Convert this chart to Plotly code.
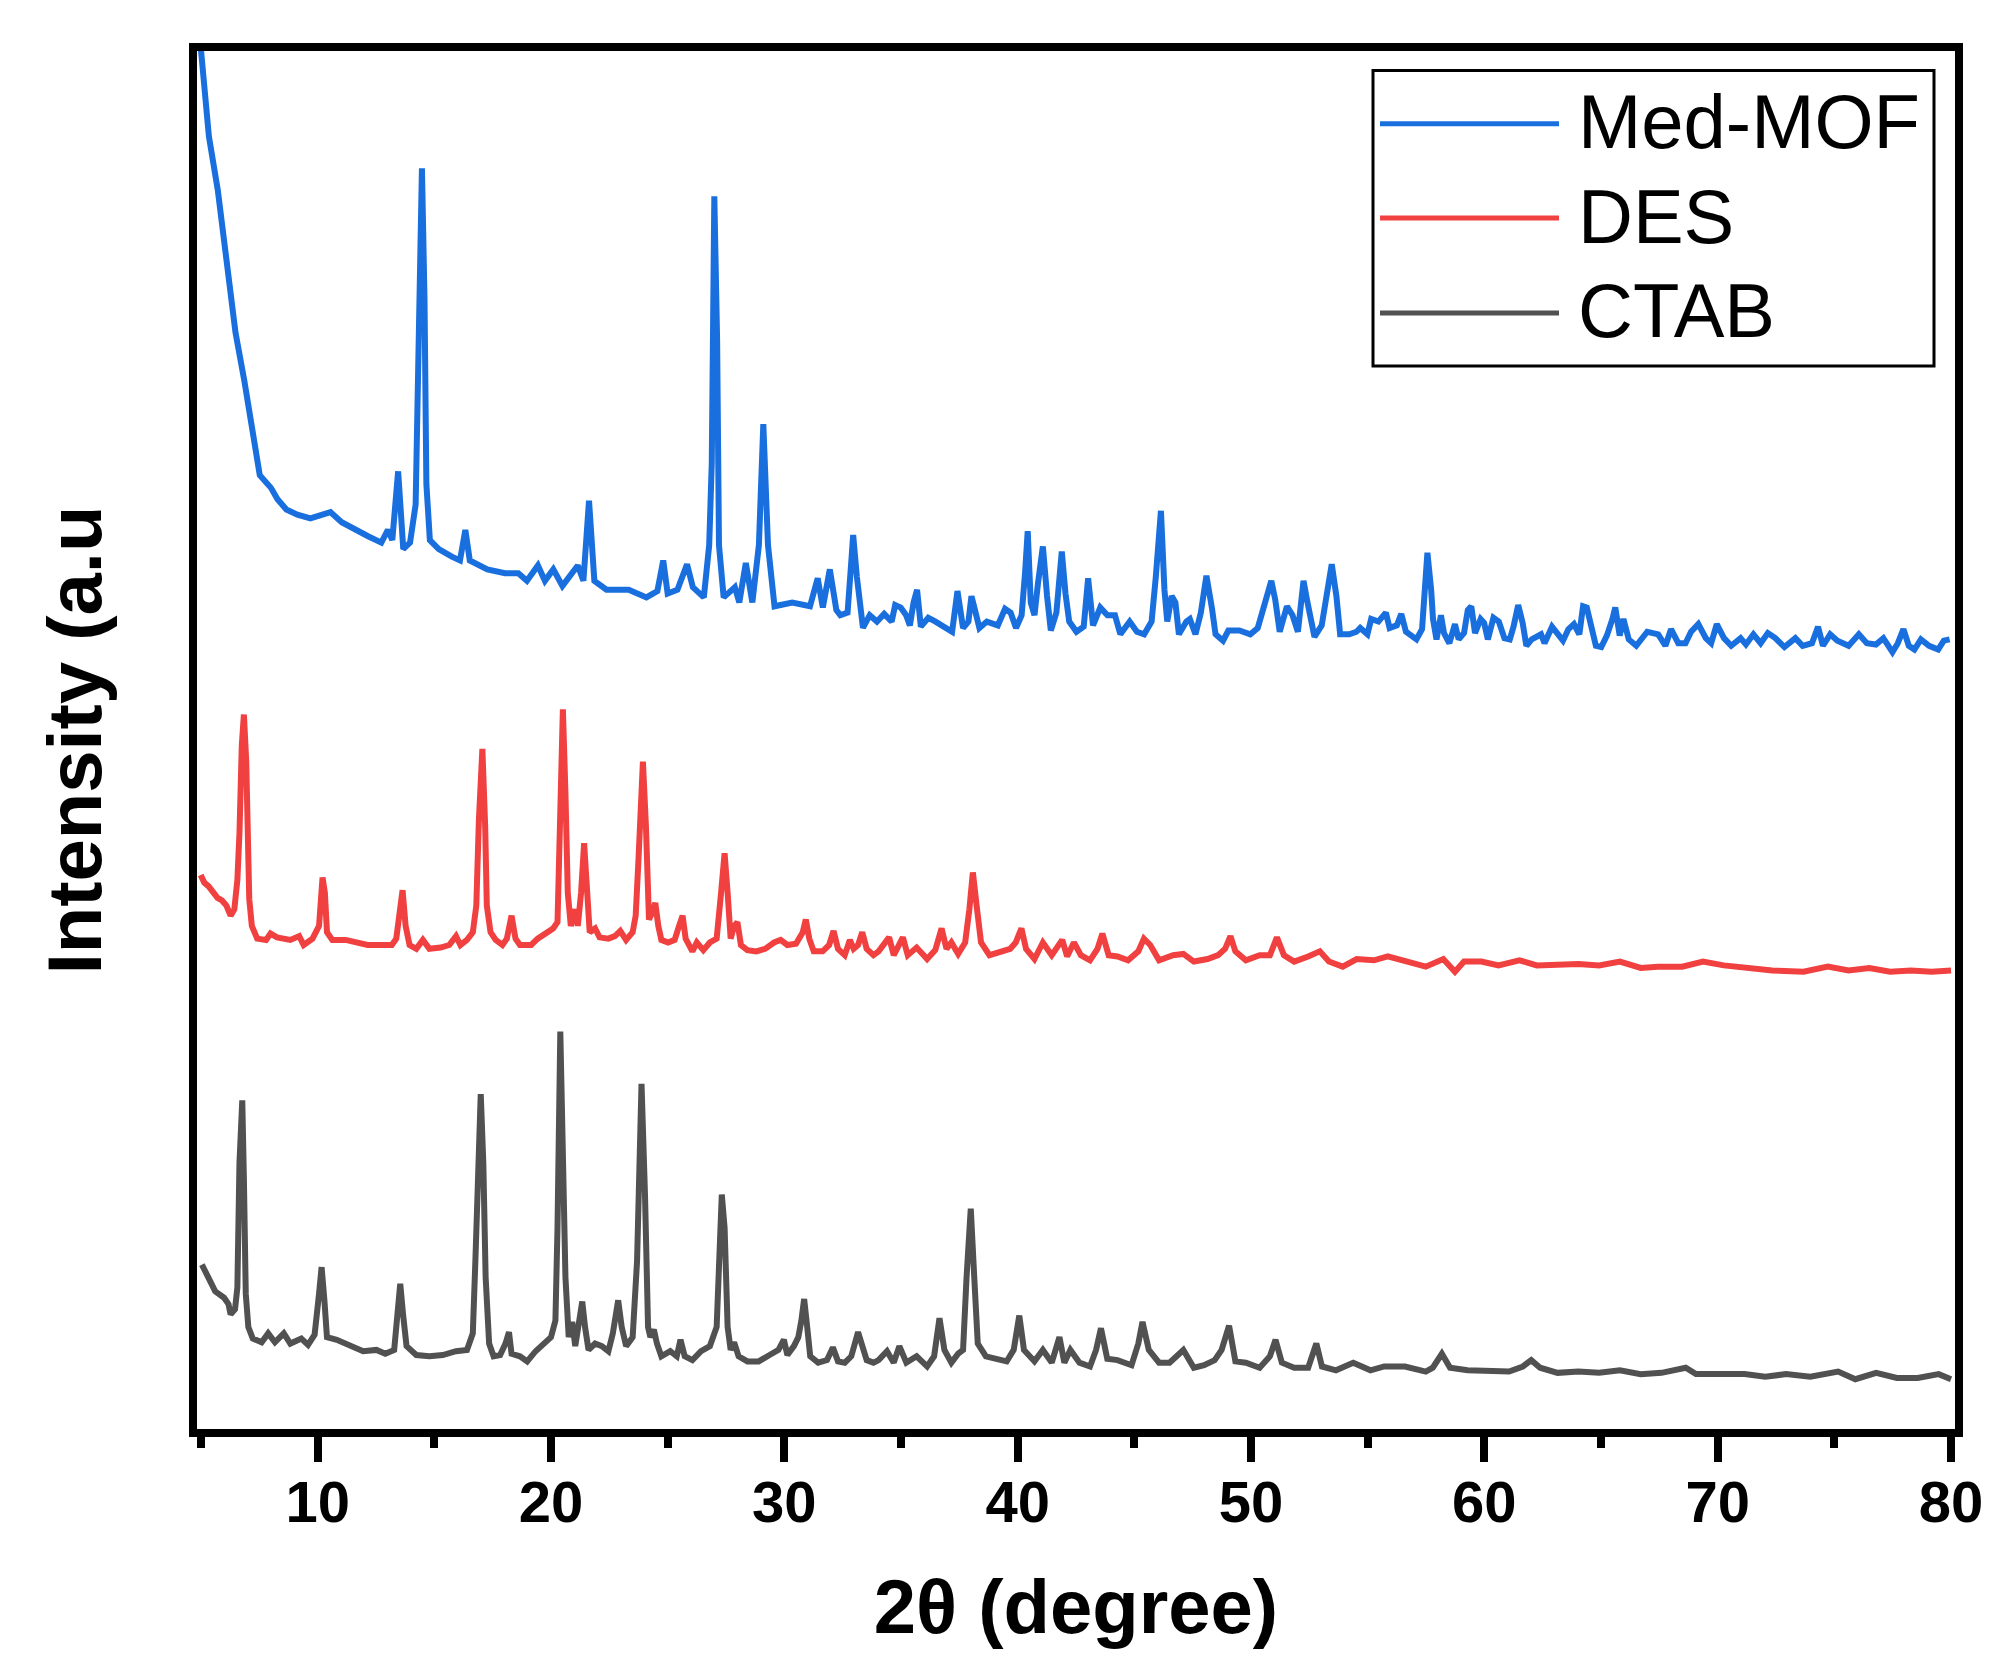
import plotly.graph_objects as go

# XRD patterns (2theta in degrees, intensity in arbitrary units)
med_mof_theta = [
    5.0, 5.34, 5.72, 6.10, 6.48, 6.86, 7.14, 7.33, 7.52, 8.0, 8.28, 8.66, 9.13, 9.69, 10.27, 10.55,
    11.03, 11.6, 12.16, 12.73, 13.01, 13.2, 13.45, 13.67, 13.96, 14.2, 14.34, 14.47, 14.58, 14.66,
    14.81, 15.19, 15.75, 16.1, 16.33, 16.52, 17.27, 18.03, 18.6, 18.97, 19.44, 19.74, 20.1, 20.49,
    21.15, 21.39, 21.63, 21.86, 22.38, 23.33, 24.09, 24.56, 24.81, 25.0, 25.42, 25.83, 26.08, 26.55,
    26.78, 26.89, 27.0, 27.12, 27.2, 27.4, 27.88, 28.07, 28.35, 28.63, 28.91, 29.1, 29.3, 29.58,
    30.34, 31.1, 31.43, 31.65, 31.95, 32.23,
    32.40, 32.71, 32.87, 32.95, 33.11, 33.26, 33.37, 33.66, 33.97, 34.28, 34.60, 34.75, 34.99, 35.22,
    35.38, 35.54, 35.69, 35.85, 36.17, 36.48, 36.95, 37.19, 37.42, 37.66, 37.89, 38.02, 38.13, 38.36,
    38.68, 39.15, 39.46, 39.70, 39.93, 40.17, 40.32, 40.43, 40.56, 40.72, 40.87, 41.08, 41.26, 41.42,
    41.66, 41.89, 42.05, 42.21, 42.52, 42.83, 43.02, 43.23, 43.54, 43.85, 44.17, 44.40, 44.80, 45.11,
    45.42, 45.74, 45.92, 46.14, 46.29, 46.41, 46.60, 46.76, 46.91, 47.23, 47.38, 47.62, 47.85, 48.09,
    48.33, 48.48, 48.80, 49.03, 49.50, 49.97, 50.29, 50.60, 50.87, 51.04, 51.23, 51.54, 51.78, 52.01,
    52.25, 52.40, 52.72, 53.03, 53.27, 53.46, 53.66, 53.82, 54.21, 54.52, 54.68, 54.99, 55.15, 55.46,
    55.78, 55.94, 56.25, 56.44, 56.64, 56.95,
    57.09, 57.33, 57.41, 57.56, 57.72, 57.80, 57.95, 58.14, 58.27, 58.50, 58.74, 58.90, 59.13, 59.29,
    59.44, 59.60, 59.84, 59.99, 60.15, 60.39, 60.62, 60.86, 61.09, 61.25, 61.45, 61.64, 61.80, 62.03,
    62.43, 62.58, 62.90, 63.13, 63.37, 63.60, 63.84, 64.07, 64.23, 64.39, 64.54, 64.78, 65.01, 65.25,
    65.49, 65.61, 65.80, 65.96, 66.19, 66.51, 66.98, 67.45, 67.76, 68.00, 68.31, 68.62, 68.86, 69.17,
    69.49, 69.72, 69.96, 70.27, 70.58, 70.98, 71.21, 71.53, 71.84, 72.15, 72.47, 72.86, 73.33, 73.64,
    74.04, 74.30, 74.51, 74.82, 75.13, 75.61, 76.05, 76.39, 76.78, 77.10, 77.49, 77.72, 77.96, 78.19,
    78.43, 78.71, 79.06, 79.45, 79.69, 79.94,
]
med_mof_int = [
    1080, 1012, 970, 916, 858, 820, 788, 765, 746, 736, 727, 719, 715, 712, 715, 717,
    709, 703, 698, 693, 703, 695, 749, 688, 693, 723, 852, 987, 884, 739,
    695, 688, 682, 679, 703, 679, 672, 669, 669, 663, 675, 663, 672, 659,
    675, 663, 726, 663, 656, 656, 650, 655, 679, 653, 656, 676, 658, 650,
    691, 755, 965, 852, 691, 650, 658, 646, 677, 646, 691, 786, 691, 643,
    646, 643, 665, 642, 672, 640,
    636, 638, 678, 699, 666, 636, 626, 636, 631, 637, 631, 644, 642, 636,
    628, 646, 656, 627, 634, 631, 626, 623, 655, 626, 631, 651, 643, 626,
    631, 628, 641, 638, 626, 636, 670, 702, 646, 636, 661, 690, 651, 624,
    638, 686, 653, 631, 623, 627, 665, 628, 642, 636, 636, 621, 631, 623,
    621, 631, 666, 718, 656, 631, 651, 646, 621, 631, 633, 621, 638, 667,
    641, 621, 616, 624, 624, 621, 626, 648, 663, 648, 623, 643, 636, 623,
    663, 648, 619, 628, 656, 676, 651, 621, 621, 623, 626, 621, 633, 631,
    638, 626, 628, 637, 623, 618,
    617, 625, 643, 685, 656, 633, 617, 636, 622, 614, 629, 617, 622, 640,
    643, 622, 633, 630, 617, 634, 631, 618, 617, 627, 644, 630, 612, 617,
    621, 614, 627, 622, 616, 625, 629, 621, 643, 642, 630, 612, 611, 620,
    633, 642, 620, 633, 617, 612, 623, 621, 612, 625, 614, 614, 623, 629,
    618, 614, 629, 618, 612, 618, 613, 621, 614, 622, 618, 611, 618, 612,
    614, 627, 612, 621, 616, 612, 621, 614, 613, 618, 607, 614, 625, 612,
    609, 617, 612, 609, 616, 617,
]

des_theta = [
    4.99, 5.14, 5.33, 5.52, 5.71, 5.90, 6.09, 6.27, 6.43, 6.56, 6.65, 6.75, 6.84, 6.94, 6.99, 7.07,
    7.18, 7.41, 7.79, 7.98, 8.26, 8.55, 8.83, 9.21, 9.40, 9.78, 10.06, 10.21, 10.31, 10.40, 10.63,
    11.20, 11.57, 12.14, 12.71, 13.18, 13.37, 13.51, 13.64, 13.77, 13.94, 14.23, 14.51, 14.79, 15.27,
    15.64, 15.93, 16.12, 16.40, 16.65, 16.80, 16.91, 17.06, 17.18, 17.25, 17.41, 17.63, 17.92, 18.11,
    18.31, 18.48, 18.67, 19.15, 19.43, 19.81, 20.09, 20.28, 20.40, 20.51, 20.62, 20.72, 20.85, 21.04,
    21.15, 21.29, 21.42, 21.51, 21.66, 21.89, 22.08, 22.46, 22.74, 22.97, 23.22, 23.50, 23.63, 23.75,
    23.94, 24.07, 24.20, 24.35, 24.47, 24.60, 24.73, 25.02, 25.30, 25.49, 25.64, 25.77, 26.06, 26.25,
    26.53, 26.81, 27.10, 27.29, 27.44, 27.57, 27.70, 27.85, 27.99, 28.14, 28.42, 28.80, 29.18, 29.56,
    29.84, 30.13, 30.50, 30.79, 30.92, 31.07, 31.26, 31.64, 31.92, 32.11, 32.30, 32.59, 32.81, 32.97,
    33.16, 33.34, 33.53, 33.82,
    34.04, 34.49, 34.69, 35.08, 35.29, 35.67, 36.12, 36.47, 36.74, 36.95, 37.16, 37.45, 37.75, 37.93,
    38.08, 38.26, 38.43, 38.79, 39.24, 39.68, 39.92, 40.16, 40.36, 40.72, 41.08, 41.46, 41.91, 42.12,
    42.41, 42.71, 43.10, 43.42, 43.63, 43.90, 44.28, 44.73, 45.17, 45.41, 45.68, 46.06, 46.66, 47.10,
    47.55, 48.14, 48.59, 48.89, 49.12, 49.33, 49.78, 50.37, 50.81, 51.11, 51.41, 51.85, 52.45, 52.95,
    53.34, 53.93, 54.53, 55.27, 55.86, 56.60, 57.49, 58.24, 58.74, 59.13, 59.87, 60.61, 61.50, 62.25,
    63.14, 64.03, 64.92, 65.81, 66.70, 67.44, 68.48, 69.37, 70.26, 71.45, 72.34, 73.68, 74.72, 75.61,
    76.50, 77.39, 78.28, 79.17, 80.0,
]
des_int = [
    432, 426, 423, 418, 414, 412, 408, 400, 405, 428, 465, 534, 558, 521, 470, 413,
    392, 382, 381, 386, 383, 382, 381, 384, 377, 382, 392, 430, 418, 387, 381,
    381, 379, 377, 377, 377, 382, 405, 420, 392, 377, 374, 381, 374, 375,
    377, 384, 377, 381, 387, 408, 475, 531, 470, 408, 387, 381, 377, 382,
    400, 382, 377, 377, 382, 386, 390, 395, 465, 562, 496, 418, 392, 405,
    392, 418, 457, 428, 387, 390, 383, 382, 384, 388, 381, 387, 400, 444,
    521, 470, 397, 403, 410, 392, 381, 379, 381, 392, 400, 382, 372, 379,
    373, 379, 382, 418, 449, 418, 382, 392, 395, 377, 373, 372, 374, 379,
    381, 377, 378, 387, 397, 382, 372, 372, 377, 388, 374, 369, 381, 374,
    377, 387, 374, 369,
    372, 383, 369, 383, 369, 375, 366, 373, 390, 374, 379, 370, 379, 405,
    434, 405, 379, 369, 372, 374, 379, 390, 374, 366, 379, 369, 381, 368,
    379, 369, 365, 374, 386, 369, 368, 365, 372, 382, 377, 365, 369, 370,
    364, 366, 369, 374, 384, 372, 365, 369, 369, 383, 369, 364, 368, 372,
    364, 360, 366, 365, 368, 364, 360, 366, 356, 364, 364, 361, 365, 361,
    362, 362, 361, 364, 359, 360, 360, 364, 361, 359, 357, 356, 360, 357,
    359, 356, 357, 356, 357,
]

ctab_theta = [
    5.04, 5.23, 5.42, 5.61, 5.80, 5.99, 6.18, 6.27, 6.46, 6.56, 6.65, 6.77, 6.84, 6.92, 7.03, 7.22,
    7.60, 7.88, 8.17, 8.55, 8.83, 9.30, 9.59, 9.87, 10.06, 10.17, 10.29, 10.40, 10.82, 11.39, 11.95,
    12.52, 12.90, 13.28, 13.43, 13.54, 13.66, 13.81, 14.23, 14.79, 15.36, 15.93, 16.40, 16.65, 16.76,
    16.88, 16.99, 17.10, 17.20, 17.35, 17.54, 17.82, 18.05, 18.20, 18.31, 18.67, 18.98, 19.34, 19.71,
    20.00, 20.19, 20.28, 20.40, 20.51, 20.62, 20.76, 20.91, 21.04, 21.19, 21.34, 21.46, 21.61, 21.89,
    22.18, 22.46, 22.65, 22.88, 23.03, 23.22, 23.50, 23.69, 23.88, 24.03, 24.16, 24.26, 24.41, 24.54,
    24.73, 25.11, 25.39, 25.55, 25.73, 26.06, 26.43, 26.81, 27.10, 27.32, 27.44, 27.57, 27.70, 27.85,
    28.04, 28.42, 28.90, 29.37, 29.75, 29.98, 30.13, 30.41, 30.60, 30.73, 30.85, 30.98, 31.11, 31.45,
    31.83, 32.08, 32.30, 32.59, 32.87, 33.16, 33.34, 33.53, 33.82,
    34.04, 34.40, 34.69, 34.93, 35.23, 35.67, 36.12, 36.42, 36.65, 36.86, 37.16, 37.45, 37.66, 37.81,
    37.99, 38.14, 38.29, 38.64, 39.09, 39.53, 39.83, 40.07, 40.27, 40.72, 41.08, 41.46, 41.79, 42.00,
    42.26, 42.65, 43.10, 43.36, 43.57, 43.84, 44.28, 44.88, 45.17, 45.35, 45.62, 46.06, 46.51, 47.10,
    47.55, 47.99, 48.44, 48.74, 49.06, 49.33, 49.78, 50.37, 50.81, 51.05, 51.32, 51.85, 52.45, 52.80,
    53.04, 53.64, 54.38, 55.12, 55.71, 56.60, 57.49, 57.79, 58.18, 58.53, 59.28, 60.17, 61.06, 61.65,
    62.01, 62.39, 63.14, 64.03, 64.92, 65.81, 66.70, 67.59, 68.63, 69.07, 69.96, 71.15, 72.04, 72.93,
    73.97, 75.16, 75.90, 76.79, 77.68, 78.57, 79.47, 80.0,
]
ctab_int = [
    126, 118, 112, 105, 103, 100, 95, 87, 91, 108, 206, 255, 193, 103, 77, 68,
    65, 72, 65, 72, 64, 68, 63, 71, 103, 124, 98, 69, 67, 62, 58,
    59, 56, 59, 90, 111, 87, 62, 55, 54, 55, 58, 59, 72, 129,
    206, 260, 206, 116, 64, 54, 55, 64, 73, 56, 54, 50, 58, 64,
    69, 82, 155, 309, 232, 116, 69, 81, 62, 77, 97, 77, 59, 64,
    62, 58, 72, 98, 77, 62, 69, 129, 268, 180, 77, 69, 75, 64,
    54, 58, 54, 67, 54, 51, 58, 62, 77, 181, 155, 77, 59, 65,
    54, 50, 50, 55, 59, 67, 55, 62, 69, 82, 99, 77, 54, 49,
    51, 61, 50, 49, 54, 73, 62, 51, 49,
    51, 58, 49, 62, 49, 54, 46, 54, 84, 59, 49, 56, 59, 116,
    170, 116, 64, 54, 52, 50, 59, 86, 59, 50, 59, 49, 69, 49,
    59, 49, 46, 59, 76, 52, 51, 47, 64, 81, 59, 49, 49, 59,
    45, 47, 51, 59, 78, 50, 49, 45, 54, 67, 49, 45, 45, 64,
    46, 43, 49, 43, 46, 46, 42, 45, 56, 45, 43, 42, 42, 46,
    51, 45, 41, 42, 41, 43, 40, 41, 45, 40, 40, 40, 38, 40,
    38, 42, 36, 41, 37, 37, 40, 36,
]

names = ["Med-MOF", "DES", "CTAB"]
colors = ["#1A6FDF", "#F14040", "#515151"]
series = [(med_mof_theta, med_mof_int), (des_theta, des_int), (ctab_theta, ctab_int)]

W, H = 2013, 1677
L, R, T, B = 189, 66, 43, 256          # plot area margins in px
pw, ph = W - L - R, H - T - B


def px(x):
    return (x - L) / pw


def py(y):
    return (H - B - y) / ph


fig = go.Figure()
for name, color, (xs, ys) in zip(names, colors, series):
    fig.add_trace(go.Scatter(x=xs, y=ys, mode="lines", name=name,
                             line=dict(color=color, width=6), showlegend=False))

# legend drawn by hand (Origin-style box with long line samples)
shapes = [dict(type="rect", xref="paper", yref="paper",
               x0=px(1365), x1=px(1926), y0=py(358), y1=py(62.5),
               line=dict(color="black", width=3), fillcolor="white", layer="above")]
annotations = []
row_y = [115.7, 210, 305]
for name, color, ry in zip(names, colors, row_y):
    shapes.append(dict(type="line", xref="paper", yref="paper",
                       x0=px(1372), x1=px(1551), y0=py(ry), y1=py(ry),
                       line=dict(color=color, width=5), layer="above"))
    annotations.append(dict(text=name, xref="paper", yref="paper",
                            x=px(1568), y=py(ry - 2), xanchor="left", yanchor="middle",
                            showarrow=False, font=dict(size=76, color="black")))

fig.update_layout(
    width=W, height=H,
    margin=dict(l=L, r=R, t=T, b=B),
    plot_bgcolor="white", paper_bgcolor="white",
    font=dict(family="Liberation Sans, Arial, sans-serif", color="black"),
    shapes=shapes, annotations=annotations,
)
fig.update_xaxes(
    range=[4.83, 80.17], tick0=0, dtick=10,
    showline=True, linecolor="black", linewidth=8, mirror=True,
    ticks="outside", ticklen=25, tickwidth=8, tickcolor="black",
    minor=dict(ticks="outside", ticklen=11, tickwidth=8, tickcolor="black", dtick=5, tick0=0),
    tickfont=dict(size=58, weight="bold"), ticklabelstandoff=-10,
    showgrid=False, zeroline=False,
    title=dict(text="2θ (degree)", font=dict(size=76, weight="bold"), standoff=50),
)
fig.update_yaxes(
    range=[-3.1, 1079.1],
    showline=True, linecolor="black", linewidth=8, mirror=True,
    ticks="", showticklabels=False, showgrid=False, zeroline=False,
    title=dict(text="Intensity (a.u", font=dict(size=76, weight="bold"), standoff=65),
)

fig.write_html("out.html")
